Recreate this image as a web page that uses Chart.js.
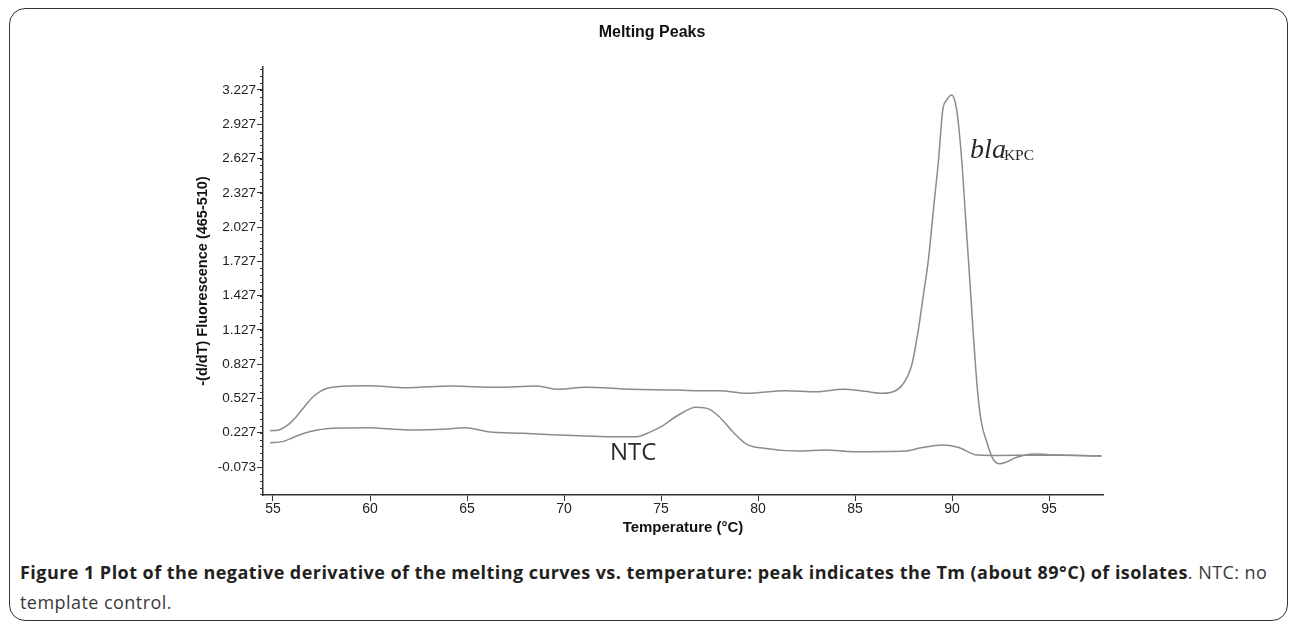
<!DOCTYPE html>
<html>
<head>
<meta charset="utf-8">
<title>Melting Peaks</title>
<script src="https://cdn.jsdelivr.net/npm/chart.js@4.4.1/dist/chart.umd.min.js"></script>
<style>
    html, body { margin: 0; padding: 0; background: #fff; }
    #page { position: relative; width: 1290px; height: 627px; overflow: hidden; }
    #frame {
        position: absolute; left: 9px; top: 8px; width: 1279px; height: 613px;
        border: 1.5px solid #333; border-radius: 16px; box-sizing: border-box;
    }
    #plot { position: absolute; left: 0; top: 0; width: 1290px; height: 545px; }
    #caption {
        position: absolute; left: 20px; top: 557px; width: 1265px;
        font-family: "Open Sans", "Noto Sans", sans-serif; font-size: 18px;
        letter-spacing: 0.45px; line-height: 30px; color: #231f20; white-space: nowrap;
    }
    #caption b { font-weight: 700; }
    #caption span { color: #3a3a3a; }
</style>
</head>
<body>
<div id="page">
    <div id="frame"></div>
    <div id="plot"><canvas id="meltChart" width="1290" height="545"></canvas></div>
    <div id="caption">
        <b>Figure 1 Plot of the negative derivative of the melting curves vs. temperature: peak indicates the Tm (about 89°C) of isolates</b><span>. NTC: no<br>template control.</span>
    </div>
</div>
<script>
// ===================================
// Data
// ===================================
const xTicks = [55, 60, 65, 70, 75, 80, 85, 90, 95];
const yTicks = [-0.073, 0.227, 0.527, 0.827, 1.127, 1.427, 1.727, 2.027, 2.327, 2.627, 2.927, 3.227];

// blaKPC sample (upper curve)
const blaTemp = [54.85, 55.3, 55.8, 56.2, 56.6, 57.0, 57.4, 57.8, 58.3, 59.9, 61.9, 64.2, 66.5, 68.6, 69.7,
    71.1, 73.4, 75.7, 76.8, 78.0, 79.4, 81.4, 83.0, 84.4, 85.5, 86.4, 87.15, 87.5, 87.9, 88.26, 88.52,
    88.78, 89.04, 89.3, 89.52, 89.73, 89.98, 90.24, 90.5, 90.72, 90.9, 91.08, 91.3, 91.5, 91.8, 92.1,
    92.45, 92.8, 93.3, 94.2, 95.0, 96.0, 97.7];
const blaValue = [0.245, 0.251, 0.30, 0.367, 0.45, 0.531, 0.585, 0.616, 0.630, 0.639, 0.621, 0.636, 0.625, 0.636, 0.607,
    0.625, 0.607, 0.601, 0.595, 0.595, 0.572, 0.595, 0.586, 0.607, 0.59, 0.572, 0.601, 0.66, 0.805, 1.126, 1.43,
    1.74, 2.18, 2.61, 3.05, 3.14, 3.183, 3.05, 2.61, 2.05, 1.60, 1.13, 0.62, 0.33, 0.14, 0.0,
    -0.045, -0.03, 0.01, 0.041, 0.035, 0.03, 0.023];

// no template control (lower curve)
const ntcTemp = [54.85, 55.5, 56.1, 56.7, 57.3, 58.05, 59.9, 61.95, 63.8, 64.9, 66.1, 67.9, 69.7, 71.1, 72.5,
    73.75, 74.4, 75.0, 75.9, 76.8, 77.5, 78.0, 78.7, 79.4, 80.3, 82.1, 83.5, 84.9, 87.6, 88.4, 89.5,
    90.3, 91.3, 92.5, 94.0, 95.5, 97.7];
const ntcValue = [0.140, 0.149, 0.19, 0.227, 0.25, 0.266, 0.271, 0.251, 0.257, 0.271, 0.236, 0.222, 0.207, 0.199, 0.192,
    0.192, 0.23, 0.280, 0.382, 0.450, 0.432, 0.367, 0.236, 0.128, 0.091, 0.067, 0.076, 0.061, 0.067, 0.095, 0.12,
    0.10, 0.032, 0.028, 0.03, 0.03, 0.023];

const axisColor = '#333333';
const curveColor = '#8c8c8c';
const sansFont = '"Liberation Sans", Arial, sans-serif';

function toPoints(xs, ys) {
    return xs.map((x, i) => ({ x: x, y: ys[i] }));
}

// Minor ticks on the y axis, five per major step
const minorStep = 0.06;

const minorTickPlugin = {
    id: 'minorTicks',
    afterDraw(chart) {
        const y = chart.scales.y;
        const ctx = chart.ctx;
        ctx.save();
        ctx.strokeStyle = axisColor;
        ctx.lineWidth = 1;
        for (let v = yTicks[0] - minorStep * 4; v < y.max; v += minorStep) {
            if (v < y.min) continue;
            const py = Math.round(y.getPixelForValue(v)) + 0.5;
            ctx.beginPath();
            ctx.moveTo(y.right - 3, py);
            ctx.lineTo(y.right, py);
            ctx.stroke();
        }
        ctx.restore();
    }
};

// Chart title and curve labels
const labelPlugin = {
    id: 'curveLabels',
    afterDatasetsDraw(chart) {
        const { ctx, scales: { x, y } } = chart;
        ctx.save();

        // title sits over the page centre, not the plot centre
        ctx.fillStyle = '#111';
        ctx.font = 'bold 16px ' + sansFont;
        ctx.textAlign = 'center';
        ctx.textBaseline = 'middle';
        ctx.fillText('Melting Peaks', 652, 33);

        ctx.fillStyle = '#2a2a2a';
        ctx.textBaseline = 'alphabetic';
        ctx.textAlign = 'left';
        const bx = x.getPixelForValue(90.93);
        const by = y.getPixelForValue(2.632);
        ctx.font = 'italic 28px "Liberation Serif", "DejaVu Serif", serif';
        ctx.fillText('bla', bx, by);
        const w = ctx.measureText('bla').width;
        ctx.font = '15.5px "Liberation Serif", "DejaVu Serif", serif';
        ctx.fillText('KPC', bx + w - 2, by + 2);

        ctx.font = '24px "Open Sans", "Noto Sans", sans-serif';
        ctx.textAlign = 'center';
        ctx.textBaseline = 'middle';
        ctx.fillText('NTC', x.getPixelForValue(73.56), y.getPixelForValue(0.05));
        ctx.restore();
    }
};

new Chart(document.getElementById('meltChart'), {
    type: 'line',
    data: {
        datasets: [
            {
                label: 'blaKPC',
                data: toPoints(blaTemp, blaValue),
                borderColor: curveColor,
                borderWidth: 1.5,
                pointRadius: 0,
                cubicInterpolationMode: 'monotone',
                fill: false
            },
            {
                label: 'NTC',
                data: toPoints(ntcTemp, ntcValue),
                borderColor: curveColor,
                borderWidth: 1.5,
                pointRadius: 0,
                cubicInterpolationMode: 'monotone',
                fill: false
            }
        ]
    },
    options: {
        responsive: false,
        animation: false,
        layout: {
            padding: { left: 0, right: 187, top: 67, bottom: 0 }
        },
        plugins: {
            legend: { display: false },
            tooltip: { enabled: false },
            title: { display: false }
        },
        scales: {
            x: {
                type: 'linear',
                min: 54.485,
                max: 97.78,
                afterBuildTicks: scale => {
                    scale.ticks = xTicks.map(v => ({ value: v }));
                },
                afterFit: scale => { scale.height = 50; },
                ticks: {
                    color: '#222',
                    padding: 0,
                    font: { family: sansFont, size: 14 },
                    callback: value => String(value)
                },
                grid: {
                    drawOnChartArea: false,
                    drawTicks: true,
                    tickLength: 6,
                    color: axisColor
                },
                border: { display: true, color: axisColor, width: 1.5 },
                title: {
                    display: true,
                    text: 'Temperature (°C)',
                    color: '#111',
                    font: { family: sansFont, size: 15, weight: 'bold' },
                    padding: { top: 0, bottom: 8.5 }
                }
            },
            y: {
                min: -0.318,
                max: 3.428,
                afterBuildTicks: scale => {
                    scale.ticks = yTicks.map(v => ({ value: v }));
                },
                afterFit: scale => { scale.width = 263; },
                ticks: {
                    color: '#222',
                    padding: 1,
                    font: { family: sansFont, size: 13.5 },
                    callback: value => value.toFixed(3)
                },
                grid: {
                    drawOnChartArea: false,
                    drawTicks: true,
                    tickLength: 6,
                    color: axisColor
                },
                border: { display: true, color: axisColor, width: 1.5 },
                title: {
                    display: true,
                    text: '-(d/dT) Fluorescence (465-510)',
                    color: '#111',
                    font: { family: sansFont, size: 14.5, weight: 'bold' },
                    padding: { top: 194.3, bottom: 0 }
                }
            }
        }
    },
    plugins: [minorTickPlugin, labelPlugin]
});
</script>
</body>
</html>
